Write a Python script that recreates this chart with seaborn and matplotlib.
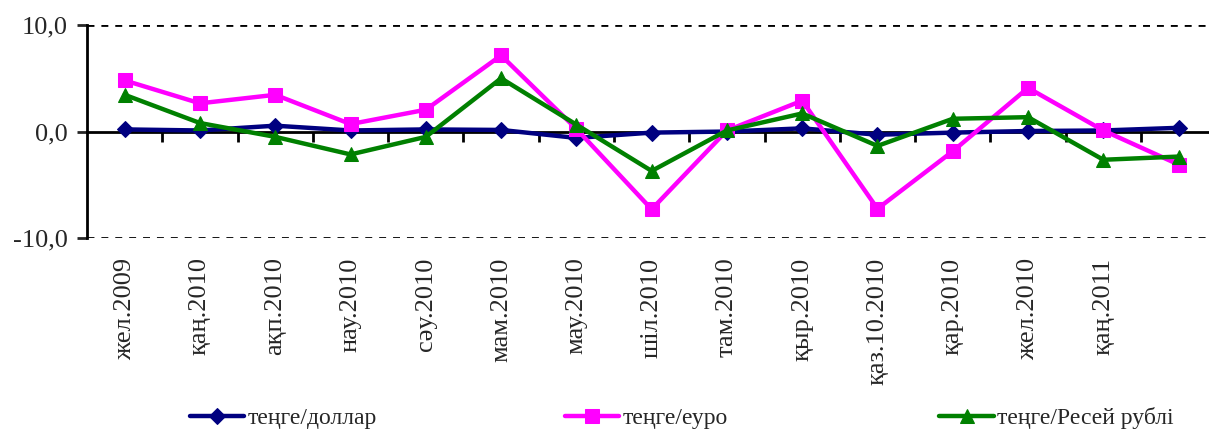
import matplotlib
matplotlib.use("Agg")
import matplotlib.pyplot as plt
import pandas as pd
import numpy as np
import seaborn as sns

# Category labels (last point has no label)
months = ['жел.2009', 'қаң.2010', 'ақп.2010', 'нау.2010', 'сәу.2010', 'мам.2010',
          'мау.2010', 'шіл.2010', 'там.2010', 'қыр.2010', 'қаз.10.2010', 'қар.2010',
          'жел.2010', 'қаң.2011', '']

usd = [0.2, 0.1, 0.55, 0.1, 0.2, 0.15, -0.6, -0.1, 0.0, 0.3, -0.3, -0.1, 0.05, 0.1, 0.35]
eur = [4.8, 2.65, 3.45, 0.7, 2.05, 7.15, 0.25, -7.3, 0.1, 2.9, -7.25, -1.85, 4.1, 0.1, -3.1]
rub = [3.45, 0.8, -0.5, -2.15, -0.5, 5.0, 0.65, -3.7, 0.1, 1.7, -1.35, 1.2, 1.35, -2.65, -2.35]

series_names = ['теңге/доллар', 'теңге/еуро', 'теңге/Ресей рублі']
colors = ['#000080', '#FF00FF', '#008000']
markers = ['D', 's', '^']
msizes = [8, 10, 10]

sns.set_style("white")
plt.rcParams['font.family'] = ['Liberation Serif', 'DejaVu Serif']

df = pd.DataFrame({'pos': np.arange(len(months)), 'usd': usd, 'eur': eur, 'rub': rub})

fig = plt.figure(figsize=(12.09, 4.32), dpi=100)
ax = fig.add_axes([0.072, 0.449, 0.934, 0.493])

for col, name, c, m, ms in zip(['usd', 'eur', 'rub'], series_names, colors, markers, msizes):
    sns.lineplot(data=df, x='pos', y=col, ax=ax, color=c, marker=m, markersize=ms,
                 markeredgecolor=c, linewidth=3.2, label=name, sort=False, zorder=3)
handles, labels = ax.get_legend_handles_labels()
ax.get_legend().remove()

ax.set_xlim(-0.5, len(months) - 0.5)
ax.set_ylim(-10, 10)
ax.set_yticks([-10, 0, 10])
ax.set_yticklabels([f'{v:.1f}'.replace('.', ',') for v in [-10, 0, 10]], fontsize=19)
ax.yaxis.grid(True, color='black', linestyle=(0, (2.5, 2.5)), linewidth=2)
ax.yaxis.get_gridlines()[1].set_visible(False)
ax.set_xlabel('')
ax.set_ylabel('')

# category labels at the bottom
ax.set_xticks(np.arange(len(months)))
ax.set_xticklabels(months, rotation=90, fontsize=19)
ax.tick_params(axis='x', length=0, pad=14)
ax.tick_params(axis='y', direction='out', length=7, width=2, left=True, pad=7)

for s in ['top', 'right', 'bottom']:
    ax.spines[s].set_visible(False)
ax.spines['left'].set_color('black')
ax.spines['left'].set_linewidth(2)

# category axis line at zero with ticks between categories
sec = ax.secondary_xaxis(0.4999)
sec.set_xticks(np.arange(len(months) - 1) + 0.5)
sec.set_xticklabels([])
sec.tick_params(direction='out', length=7, width=2, color='black')
for s in ['top', 'bottom']:
    sec.spines[s].set_linewidth(2)
    sec.spines[s].set_color('black')
sec.set_zorder(1)

legend_x = [0.157, 0.467, 0.777]
for h, lab, lx in zip(handles, labels, legend_x):
    fig.legend([h], [lab], loc='center left', bbox_to_anchor=(lx, 0.032), frameon=False,
               fontsize=17, handlelength=2.3, handletextpad=0.15, borderpad=0, borderaxespad=0)

fig.savefig('out.png', dpi=100)
